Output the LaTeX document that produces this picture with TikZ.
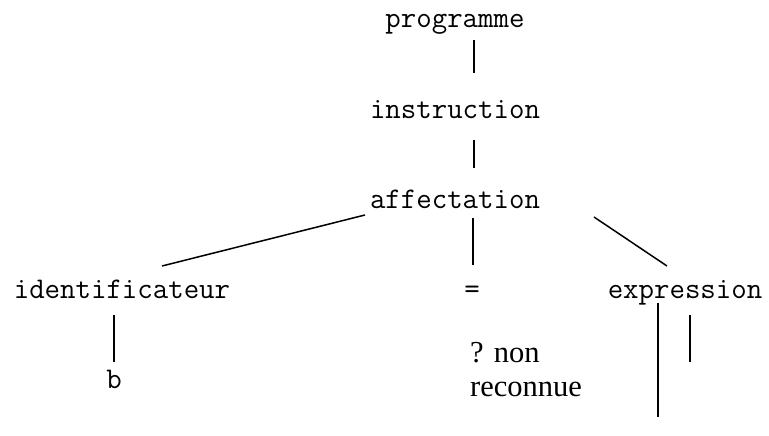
\documentclass[tikz,border=0pt]{standalone}
\usepackage{fontspec}
\setmainfont{Liberation Serif}
\begin{document}
\begin{tikzpicture}[x=1pt,y=-1pt,
  tok/.style={font=\fontsize{30}{34}\selectfont\ttfamily, anchor=base, inner sep=0pt},
  note/.style={font=\fontsize{30.5}{34}\selectfont\rmfamily, anchor=base west, inner sep=0pt, align=left},
  edge/.style={line width=1.5pt}]
\useasboundingbox (0,0) rectangle (769,436);
\node[tok] (prog) at (455,28) {programme};
\node[tok] (instr) at (455,118) {instruction};
\node[tok] (aff) at (455,208) {affectation};
\node[tok] (ident) at (122,298) {identificateur};
\node[tok] (eq) at (472,298) {=};
\node[tok] (expr) at (685,298) {expression};
\node[tok] (b) at (114,388) {b};
\node[note] (nr) at (470,396) {? non\\reconnue};
\coordinate (p1) at (474,40); \coordinate (p2) at (474,73);
\coordinate (i1) at (474,140); \coordinate (i2) at (474,168);
\coordinate (a1) at (365,215); \coordinate (a2) at (162,266);
\coordinate (a3) at (473,218); \coordinate (a4) at (473,265);
\coordinate (a5) at (594,217); \coordinate (a6) at (667,266);
\coordinate (d1) at (114,315); \coordinate (d2) at (114,362);
\coordinate (e1) at (658,303); \coordinate (e2) at (658,417);
\coordinate (e3) at (690,315); \coordinate (e4) at (690,362);
\draw[edge] (p1) -- (p2);
\draw[edge] (i1) -- (i2);
\draw[edge] (a1) -- (a2);
\draw[edge] (a3) -- (a4);
\draw[edge] (a5) -- (a6);
\draw[edge] (d1) -- (d2);
\draw[edge] (e1) -- (e2);
\draw[edge] (e3) -- (e4);
\end{tikzpicture}
\end{document}
